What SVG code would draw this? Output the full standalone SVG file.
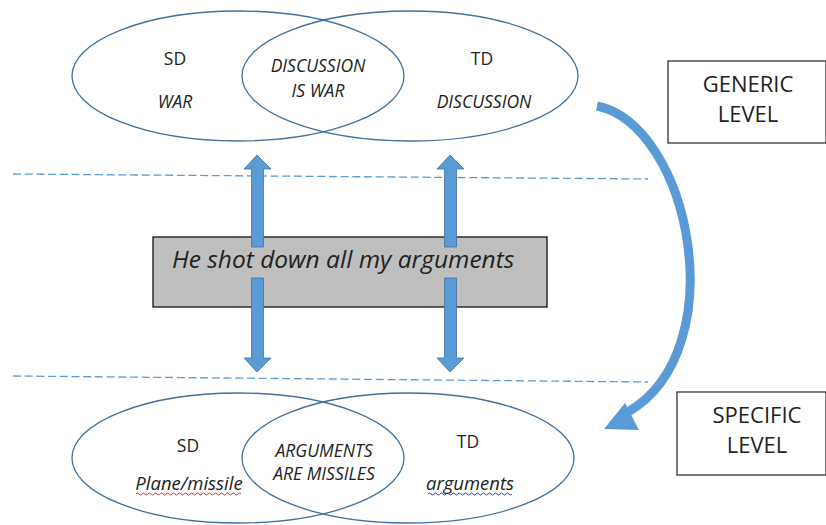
<svg xmlns="http://www.w3.org/2000/svg" width="826" height="525" viewBox="0 0 826 525">
<style>
.ell{fill:none;stroke:#41719c;stroke-width:1.3}
.t{font-family:"Open Sans","Liberation Sans",Arial,sans-serif;font-size:17.5px;fill:#222;text-anchor:middle}
.i{font-style:italic}
.lc{font-size:18.5px}
.lvl{font-family:"Open Sans","Liberation Sans",Arial,sans-serif;font-size:22px;fill:#222;text-anchor:middle}
.box{fill:#fff;stroke:#333;stroke-width:1.3}
.dash{stroke:#5b9bd5;stroke-width:1.3;stroke-dasharray:8 3.7;fill:none}
.arr{fill:#5b9bd5;stroke:#41719c;stroke-width:0.8}
</style>
<rect width="826" height="525" fill="#fff"/>
<g id="guides">
<line class="dash" x1="13" y1="174" x2="648" y2="179"/>
<line class="dash" x1="13" y1="376" x2="648" y2="382"/>
</g>
<g id="generic-venn">
<ellipse class="ell" cx="238" cy="76" rx="166" ry="65"/>
<ellipse class="ell" cx="410" cy="76" rx="168" ry="65"/>
<text class="t" x="175" y="65">SD</text>
<text class="t i" x="175" y="108">WAR</text>
<text class="t i" x="318" y="72">DISCUSSION</text>
<text class="t i" x="318" y="97">IS WAR</text>
<text class="t" x="482" y="65">TD</text>
<text class="t i" x="484" y="108">DISCUSSION</text>
</g>
<g id="specific-venn">
<ellipse class="ell" cx="238" cy="458" rx="166" ry="65"/>
<ellipse class="ell" cx="408" cy="458" rx="166" ry="65"/>
<text class="t" x="188" y="452">SD</text>
<text class="t i lc" x="189" y="490">Plane/missile</text>
<path d="M136,494 q1.5,-2 3,0 t3,0 t3,0 t3,0 t3,0 t3,0 t3,0 t3,0 t3,0 t3,0 t3,0 t3,0 t3,0 t3,0 t3,0 t3,0 t3,0 t3,0 t3,0 t3,0 t3,0 t3,0 t3,0 t3,0 t3,0 t3,0 t3,0 t3,0 t3,0 t3,0 t3,0 t3,0 t3,0 t3,0 t3,0" fill="none" stroke="#e0302a" stroke-width="1"/>
<text class="t i" x="324" y="457">ARGUMENTS</text>
<text class="t i" x="324" y="480">ARE MISSILES</text>
<text class="t" x="468" y="448">TD</text>
<text class="t i lc" x="470" y="490">arguments</text>
<path d="M428,494 q1.5,-2 3,0 t3,0 t3,0 t3,0 t3,0 t3,0 t3,0 t3,0 t3,0 t3,0 t3,0 t3,0 t3,0 t3,0 t3,0 t3,0 t3,0 t3,0 t3,0 t3,0 t3,0 t3,0 t3,0 t3,0 t3,0 t3,0 t3,0 t3,0" fill="none" stroke="#2b3fd6" stroke-width="1"/>
</g>
<g id="sentence">
<rect x="153" y="237" width="394" height="70" fill="#bfbfbf" stroke="#111" stroke-width="1.3"/>
<text x="172" y="268" font-family="'Open Sans','Liberation Sans',Arial,sans-serif" font-size="24.5" font-style="italic" fill="#222">He shot down all my arguments</text>
</g>
<g id="generic-level">
<rect class="box" x="668" y="61" width="158" height="82"/>
<text class="lvl" x="748" y="92">GENERIC</text>
<text class="lvl" x="748" y="122">LEVEL</text>
</g>
<g id="specific-level">
<rect class="box" x="677" y="392" width="149" height="83"/>
<text class="lvl" x="757" y="423">SPECIFIC</text>
<text class="lvl" x="757" y="453">LEVEL</text>
</g>
<g id="connectors">
<path class="arr" d="M257,155 L271,169 L263.5,169 L263.5,247 L251.5,247 L251.5,169 L244,169 Z"/>
<path class="arr" d="M257,372 L271,358 L263.5,358 L263.5,278 L251.5,278 L251.5,358 L244,358 Z"/>
<path class="arr" d="M450,155 L464,169 L456.5,169 L456.5,247 L444.5,247 L444.5,169 L437,169 Z"/>
<path class="arr" d="M450,372 L464,358 L456.5,358 L456.5,278 L444.5,278 L444.5,358 L437,358 Z"/>
<path d="M597,106 C690,125 735,350 628,412" fill="none" stroke="#5b9bd5" stroke-width="9"/>
<polygon points="604,429 625,403 639,430" fill="#5b9bd5"/>
</g>
</svg>
